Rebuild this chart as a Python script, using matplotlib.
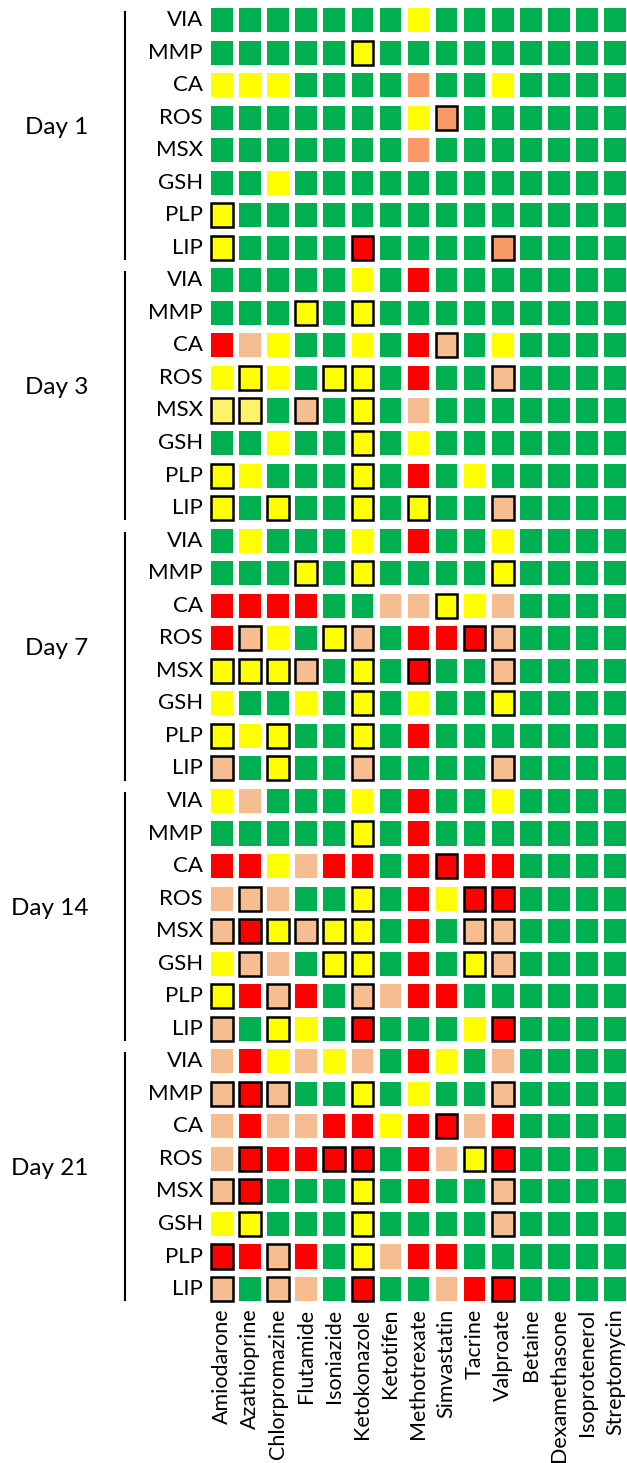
import numpy as np
import matplotlib
matplotlib.use("Agg")
import matplotlib.pyplot as plt
from matplotlib.patches import Rectangle

plt.rcParams['font.family'] = ['Lato', 'DejaVu Sans']

drugs = ["Amiodarone", "Azathioprine", "Chlorpromazine", "Flutamide", "Isoniazide",
         "Ketokonazole", "Ketotifen", "Methotrexate", "Simvastatin", "Tacrine",
         "Valproate", "Betaine", "Dexamethasone", "Isoprotenerol", "Streptomycin"]
endpoints = ["VIA", "MMP", "CA", "ROS", "MSX", "GSH", "PLP", "LIP"]
days = ["Day 1", "Day 3", "Day 7", "Day 14", "Day 21"]

# G green, Y yellow, L pale yellow, P peach, O orange, R red
day1 = ["GGGGGGGYGGGGGGG",
        "GGGGGYGGGGGGGGG",
        "YYYGGGGOGGYGGGG",
        "GGGGGGGYOGGGGGG",
        "GGGGGGGOGGGGGGG",
        "GGYGGGGGGGGGGGG",
        "YGGGGGGGGGGGGGG",
        "YGGGGRGGGGOGGGG"]
day3 = ["GGGGGYGRGGGGGGG",
        "GGGYGYGGGGGGGGG",
        "RPYGGYGRPGYGGGG",
        "YYYGYYGRGGPGGGG",
        "LLGPGYGPGGGGGGG",
        "GGYGGYGYGGGGGGG",
        "YYGGGYGRGYGGGGG",
        "YGYGGYGYGGPGGGG"]
day7 = ["GYGGGYGRGGYGGGG",
        "GGGYGYGGGGYGGGG",
        "RRRRGGPPYYPGGGG",
        "RPYGYPGRRRPGGGG",
        "YYYPGYGRGGPGGGG",
        "YGGYGYGYGGYGGGG",
        "YYYGGYGRGGGGGGG",
        "PGYGGPGGGGPGGGG"]
day14 = ["YPGGGYGRGGYGGGG",
         "GGGGGYGRGGGGGGG",
         "RRYPRRGRRRRGGGG",
         "PPPGGYGRYRRGGGG",
         "PRYPYYGRGPPGGGG",
         "YPPGYYGRGYPGGGG",
         "YRPRGPPRRGGGGGG",
         "PGYYGRGGGYRGGGG"]
day21 = ["PRYPYPGRYGPGGGG",
         "PRPGGYGYGGPGGGG",
         "PRPPRRYRRPRGGGG",
         "PRRRRRGRPYRGGGG",
         "PRGGGYGRGGPGGGG",
         "YYGGGYGGGGPGGGG",
         "RRPRGYPRRGGGGGG",
         "PGPPGRGGPRRGGGG"]

# columns with a black outline, per endpoint row
box1 = [[], [5], [], [8], [], [], [0], [0, 5, 10]]
box3 = [[], [3, 5], [8], [1, 4, 5, 10], [0, 1, 3, 5], [5], [0, 5], [0, 2, 5, 7, 10]]
box7 = [[], [3, 5, 10], [8], [1, 4, 5, 9, 10], [0, 1, 2, 3, 5, 7, 10], [5, 10],
        [0, 2, 5], [0, 2, 5, 10]]
box14 = [[], [5], [8], [1, 5, 9, 10], [0, 1, 2, 3, 4, 5, 9, 10], [1, 4, 5, 9, 10],
         [0, 2, 5], [0, 2, 5, 10]]
box21 = [[], [0, 1, 2, 5, 10], [8], [1, 4, 5, 9, 10], [0, 1, 5, 10], [1, 5, 10],
         [0, 2, 5], [0, 2, 5, 10]]

colors = {"G": "#00B050", "Y": "#FFFF00", "L": "#FFF36B",
          "P": "#F6BD91", "O": "#F79A68", "R": "#FF0000"}

grids = [day1, day3, day7, day14, day21]
boxes = [box1, box3, box7, box14, box21]

W, H = 627, 1463
fig = plt.figure(figsize=(W / 100, H / 100), dpi=100)
dx, dy = 28.07, 32.54
x0, y0 = 222, 20
ax = fig.add_axes([(x0 - dx / 2) / W, 1 - (y0 + 39.5 * dy) / H,
                   15 * dx / W, 40 * dy / H])
ax.set_xlim(-0.5, 14.5)
ax.set_ylim(39.5, -0.5)
ax.axis("off")

cw, ch = 0.77, 0.74
for d, (grid, box) in enumerate(zip(grids, boxes)):
    for r, row in enumerate(grid):
        j = d * 8 + r
        for i, c in enumerate(row):
            outlined = i in box[r]
            ax.add_patch(Rectangle((i - cw / 2, j - ch / 2), cw, ch,
                                   facecolor=colors[c],
                                   edgecolor="black" if outlined else "none",
                                   linewidth=1.8 if outlined else 0))
        ax.text(-0.68, j, endpoints[r], ha="right", va="center",
                fontsize=16, clip_on=False)
    j0 = d * 8
    ax.plot([-3.46, -3.46], [j0 - 0.25, j0 + 7.35], color="black", lw=1.5,
            clip_on=False)
    ax.text(-4.77, j0 + 3.3, days[d], ha="right", va="center",
            fontsize=17.5, clip_on=False)

for i, name in enumerate(drugs):
    ax.text(i, 39.6, name, rotation=90, ha="center", va="top",
            fontsize=15.5, clip_on=False)

fig.savefig("out.png", dpi=100)
